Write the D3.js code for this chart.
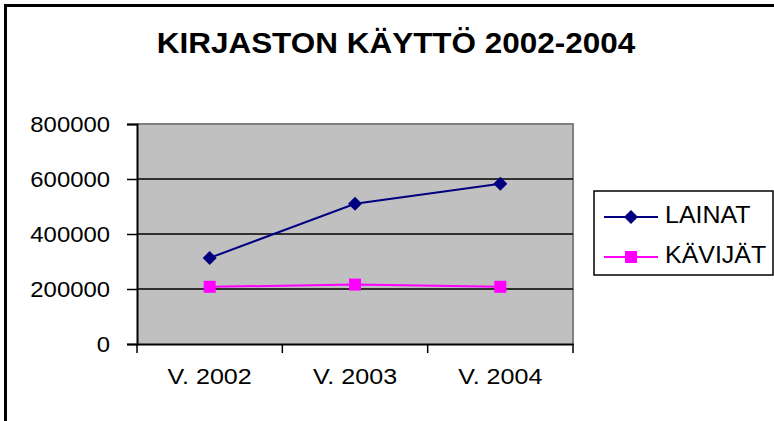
<!DOCTYPE html>
<html>
<head>
<meta charset="utf-8">
<script src="https://cdn.jsdelivr.net/npm/d3@7"></script>
<style>
    body { margin: 0; background: white; }
    svg { display: block; font-family: "Liberation Sans", Arial, sans-serif; }
</style>
</head>
<body>
<svg width="774" height="421"></svg>
<script>
// Chart data
const title = "KIRJASTON KÄYTTÖ 2002-2004"
const years = ["V. 2002", "V. 2003", "V. 2004"]
const lainat = [313000, 510000, 583000]
const kavijat = [208000, 216000, 208000]
const y_ticks = [0, 200000, 400000, 600000, 800000]
const series_names = ["LAINAT", "KÄVIJÄT"]
const series_colors = ["#000080", "#ff00ff"]

// Layout
const plot = { left: 137, top: 124, right: 573, bottom: 344 }

const svg = d3.select("svg")

// Widen text a bit, the original font renders wider than Liberation Sans
function stretch(selection, factor = 1.085) {
    selection.each(function() {
        const w = this.getComputedTextLength()
        d3.select(this)
            .attr("textLength", w * factor)
            .attr("lengthAdjust", "spacingAndGlyphs")
    })
}

// Outer frame
svg.append("rect")
    .attr("x", 5.5)
    .attr("y", 5.5)
    .attr("width", 820)
    .attr("height", 500)
    .attr("fill", "white")
    .attr("stroke", "black")
    .attr("stroke-width", 3)

// Title
svg.append("text")
    .attr("x", 396)
    .attr("y", 53)
    .attr("text-anchor", "middle")
    .attr("font-size", "29px")
    .attr("font-weight", "bold")
    .text(title)
    .call(stretch)

// Scales
const x = d3.scaleBand()
    .domain(years)
    .range([plot.left, plot.right])
    .padding(0)

const y = d3.scaleLinear()
    .domain([0, 800000])
    .range([plot.bottom, plot.top])

// Plot background
svg.append("rect")
    .attr("x", plot.left)
    .attr("y", plot.top)
    .attr("width", plot.right - plot.left)
    .attr("height", plot.bottom - plot.top)
    .attr("fill", "#c0c0c0")

// Top and right border of the plot area
svg.append("path")
    .attr("d", `M${plot.left},${plot.top}H${plot.right}V${plot.bottom}`)
    .attr("fill", "none")
    .attr("stroke", "#808080")
    .attr("stroke-width", 2)

// Gridlines
svg.append("g")
    .selectAll("line")
    .data(y_ticks.filter(d => d > 0 && d < 800000))
    .enter()
    .append("line")
    .attr("x1", plot.left)
    .attr("x2", plot.right)
    .attr("y1", d => y(d))
    .attr("y2", d => y(d))
    .attr("stroke", "black")
    .attr("stroke-width", 1.5)

// Y axis
const y_axis = svg.append("g")
    .attr("transform", `translate(${plot.left},0)`)
    .call(d3.axisLeft(y)
        .tickValues(y_ticks)
        .tickFormat(d3.format("d"))
        .tickSize(10)
        .tickPadding(17))
y_axis.select(".domain").attr("stroke-width", 2)
y_axis.selectAll(".tick line").attr("stroke-width", 1.5)
y_axis.selectAll("text")
    .attr("font-size", "22px")
    .attr("font-family", "Liberation Sans, Arial, sans-serif")
    .attr("fill", "black")
    .attr("dy", "0.36em")
    .call(stretch)

// X axis: labels in the middle of each band, tick marks at band edges
const x_axis = svg.append("g")
    .attr("transform", `translate(0,${plot.bottom})`)
    .call(d3.axisBottom(x).tickSize(0).tickPadding(29))
x_axis.select(".domain").attr("stroke-width", 2)
x_axis.selectAll("text")
    .attr("font-size", "22px")
    .attr("font-family", "Liberation Sans, Arial, sans-serif")
    .attr("fill", "black")
    .attr("dy", "0.5em")
    .call(stretch, 1.14)

const edges = years.map(d => x(d)).concat([plot.right])
x_axis.selectAll(".edge")
    .data(edges)
    .enter()
    .append("line")
    .attr("class", "edge")
    .attr("x1", d => d)
    .attr("x2", d => d)
    .attr("y1", 0)
    .attr("y2", 9)
    .attr("stroke", "black")
    .attr("stroke-width", 1.5)

// Markers
const diamond = d3.symbol().type(d3.symbolDiamond2).size(125)

function drawMarker(g, kind, color) {
    if (kind === 0) {
        g.append("path").attr("d", diamond()).attr("fill", color)
    } else {
        g.append("rect")
            .attr("x", -6).attr("y", -6)
            .attr("width", 12).attr("height", 12)
            .attr("fill", color)
    }
}

// Series
const all_series = [lainat, kavijat]
const line = d3.line()
    .x((d, i) => x(years[i]) + x.bandwidth() / 2)
    .y(d => y(d))

all_series.forEach(function(values, s) {
    svg.append("path")
        .datum(values)
        .attr("d", line)
        .attr("fill", "none")
        .attr("stroke", series_colors[s])
        .attr("stroke-width", 2)

    values.forEach(function(v, i) {
        const g = svg.append("g")
            .attr("transform", `translate(${x(years[i]) + x.bandwidth() / 2},${y(v)})`)
        drawMarker(g, s, series_colors[s])
    })
})

// Legend
const legend = svg.append("g")
legend.append("rect")
    .attr("x", 594)
    .attr("y", 191)
    .attr("width", 179)
    .attr("height", 84)
    .attr("fill", "white")
    .attr("stroke", "black")
    .attr("stroke-width", 1.5)

const legend_rows = [217, 257]
series_names.forEach(function(name, s) {
    const row = legend.append("g")
        .attr("transform", `translate(0,${legend_rows[s]})`)
    row.append("line")
        .attr("x1", 604)
        .attr("x2", 658)
        .attr("stroke", series_colors[s])
        .attr("stroke-width", 2)
    const m = row.append("g").attr("transform", "translate(631,0)")
    drawMarker(m, s, series_colors[s])
    row.append("text")
        .attr("x", 665)
        .attr("y", 5.5)
        .attr("font-size", "23px")
        .text(name)
        .call(stretch)
})
</script>
</body>
</html>
